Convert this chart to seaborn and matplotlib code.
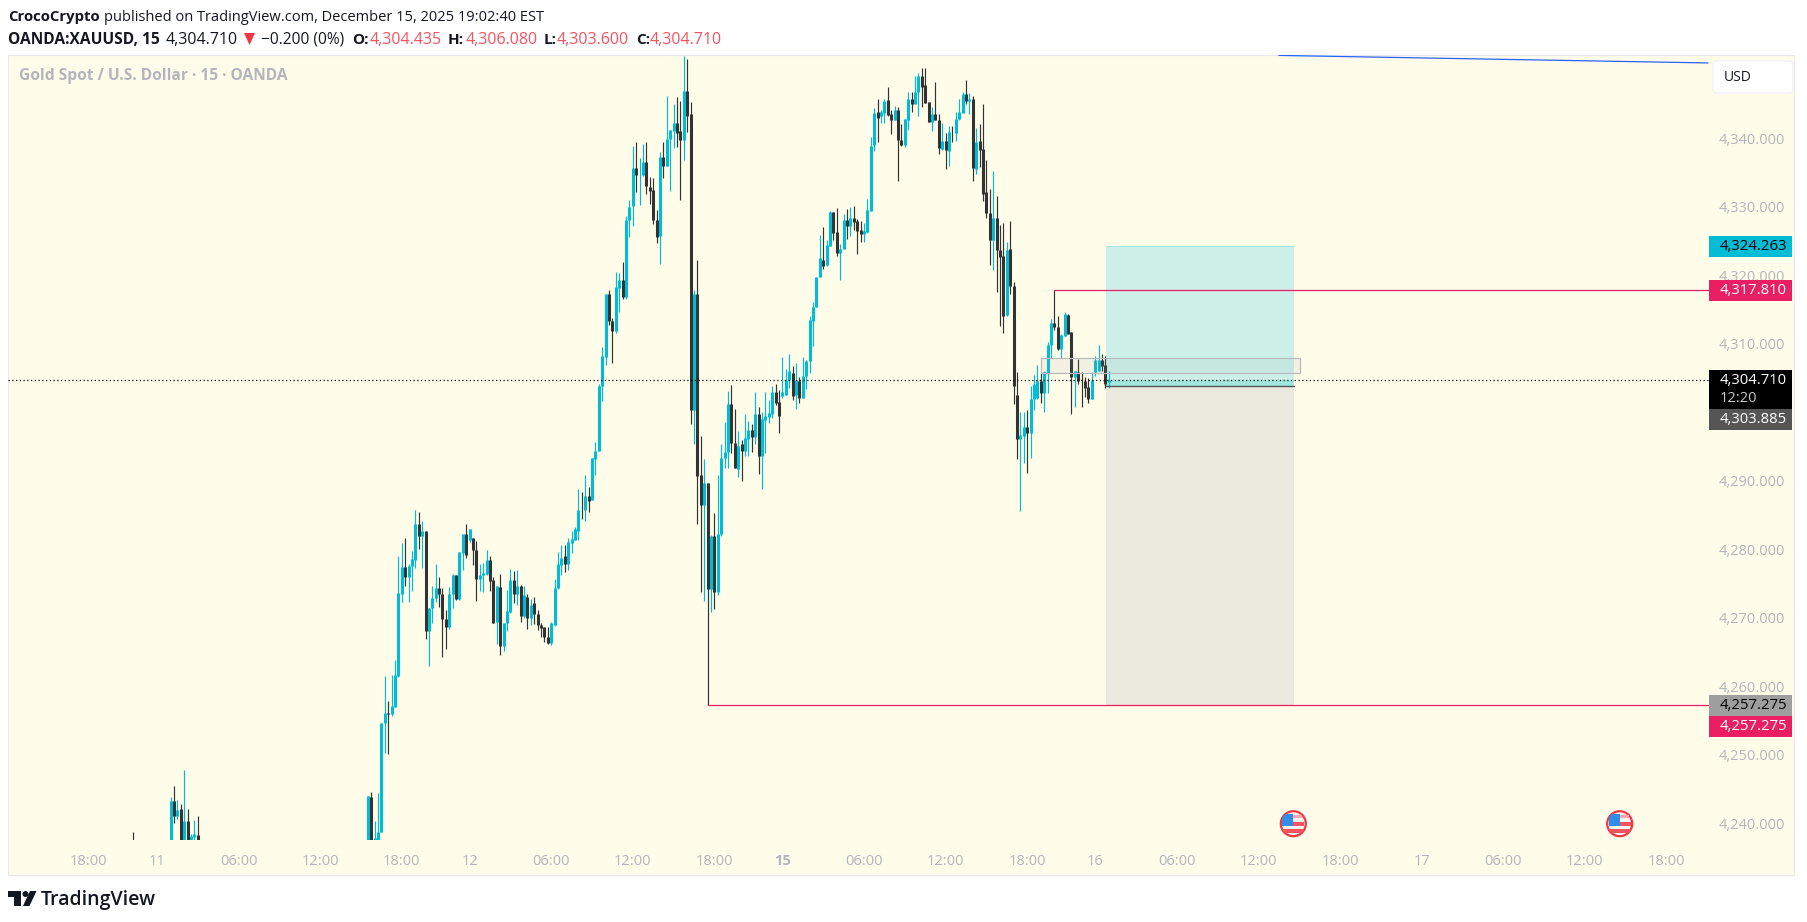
#!/usr/bin/python
import matplotlib
matplotlib.use("Agg")
import matplotlib.pyplot as plt
import numpy as np
import pandas as pd
import seaborn as sns
from matplotlib.patches import Circle, FancyBboxPatch, Polygon, Rectangle
from matplotlib.transforms import IdentityTransform

WIDTH, HEIGHT = 1807, 922

# bars visible on the chart: (first bar number, how many)
bar_runs = [(0, 1), (11, 9), (69, 219)]

opens = [
    4236,
    4235, 4243.3, 4241.0, 4242.1, 4235, 4240.3, 4235, 4238.0, 4238.3,
    4235, 4243.8, 4235, 4235, 4238.8, 4254.6, 4256.1, 4256, 4257, 4261.5,
    4273.5, 4277.4, 4276, 4277.5, 4278.5, 4283.7, 4281.9, 4282.7, 4268.1, 4271.4,
    4272.9, 4274.4, 4273.5, 4269.8, 4268.6, 4273.4, 4276.2, 4272.7, 4279.5, 4282.2,
    4281.4, 4281.6, 4279.9, 4275.6, 4276.2, 4276.4, 4278.4, 4275.5, 4269.4, 4274.5,
    4265.9, 4269.2, 4270.8, 4275.5, 4273.5, 4274.7, 4270.3, 4273.1, 4269.9, 4272.1,
    4270.6, 4268.9, 4268.6, 4267.2, 4266.3, 4269, 4274.3, 4277.7, 4279, 4277.9,
    4280.9, 4281.4, 4282.7, 4285.8, 4285.7, 4287.8, 4287.2, 4293.2, 4294.4, 4303.8,
    4308.1, 4317.2, 4313.4, 4311.9, 4318.2, 4319.3, 4316.8, 4328.1, 4330.1, 4335.6,
    4334.6, 4334.6, 4336.5, 4332.9, 4332.4, 4328.1, 4325.7, 4337.2, 4336, 4339.9,
    4341.1, 4342.3, 4341, 4339.8, 4346.9, 4343.6, 4300.4, 4317.2, 4290.8, 4286.4,
    4289.7, 4274.2, 4281.9, 4273.7, 4282.2, 4293.4, 4294.2, 4301.2, 4295.5, 4291.7,
    4295.4, 4294.4, 4296.1, 4297.4, 4296.4, 4299.8, 4293.6, 4298.9, 4299.3, 4299.8,
    4303, 4301.5, 4302.4, 4302.5, 4304.7, 4305.8, 4302.5, 4304.6, 4302.1, 4305.3,
    4307.5, 4313.3, 4315.3, 4319.8, 4322.3, 4321.5, 4324.3, 4329.2, 4326.3, 4323.3,
    4323.9, 4328.1, 4327.2, 4328.3, 4327.9, 4326.6, 4326.1, 4326.3, 4329.4, 4339,
    4343.8, 4343.2, 4343.7, 4345.6, 4343.6, 4342.6, 4344.1, 4339.8, 4339, 4342.7,
    4345.8, 4345, 4346.7, 4349.1, 4347.8, 4345.3, 4342.4, 4343.6, 4342.7, 4338.5,
    4339.6, 4338.2, 4340.9, 4340.8, 4342.8, 4343.75, 4346.5, 4345.5, 4345.7, 4335.5,
    4339.6, 4338.4, 4332.1, 4329.1, 4325.2, 4328.4, 4323.7, 4322.8, 4314.2, 4323.8,
    4318.4, 4302.5, 4296.1, 4296.6, 4297.9, 4297, 4302, 4302.1, 4304.6, 4302.8,
    4305.8, 4309.8, 4313, 4312.5, 4309.3, 4311.2, 4314.2, 4311.7, 4305.2, 4305.9,
    4304.6, 4304.6, 4303.7, 4301.9, 4305.9, 4306.1, 4307.7, 4306.9, 4304.435,
]
highs = [
    4238.8,
    4243.9, 4245.4, 4243.4, 4242.8, 4247.8, 4242.1, 4238.5, 4240.5, 4241.0,
    4244, 4244.5, 4240.3, 4244.4, 4254.6, 4261.5, 4257.8, 4261.7, 4263.8, 4279,
    4280.9, 4281.7, 4277.9, 4279.8, 4285.8, 4285.5, 4284.2, 4282.7, 4271.4, 4274.6,
    4277.8, 4276, 4274.3, 4271.1, 4274.5, 4276.4, 4276.3, 4279.6, 4282.3, 4283.7,
    4283, 4281.6, 4281.2, 4277.9, 4278, 4279.9, 4279, 4276, 4274.6, 4276.4,
    4269.2, 4274.1, 4277.1, 4276.8, 4277, 4274.8, 4274.7, 4273.5, 4272.8, 4273.1,
    4271.1, 4269.2, 4268.6, 4268.6, 4269.4, 4275.7, 4279.6, 4280.6, 4280.6, 4281.6,
    4282.7, 4283.3, 4288.8, 4288.3, 4290.8, 4289.1, 4293.4, 4295.6, 4304.2, 4309.5,
    4317.3, 4317.9, 4313.8, 4320.5, 4320.3, 4322, 4328.7, 4331, 4338.9, 4339.4,
    4337.1, 4339.1, 4339.4, 4334.4, 4334.2, 4329.6, 4338, 4339.4, 4346.2, 4341.2,
    4345, 4346, 4345.5, 4352, 4351.6, 4345.3, 4317.9, 4322.2, 4296.6, 4293.2,
    4289.7, 4282.1, 4285.3, 4290.9, 4295.4, 4298.6, 4303.1, 4304, 4300.5, 4297.3,
    4296, 4299.8, 4298.8, 4298.3, 4302.9, 4300.8, 4300.1, 4302.9, 4301.8, 4303.8,
    4304.2, 4303.3, 4308.1, 4306.3, 4308.5, 4306.8, 4307.2, 4305.1, 4308.1, 4307.7,
    4314.1, 4316.1, 4319.8, 4325.9, 4327, 4325.2, 4329.4, 4329.3, 4329.8, 4324.6,
    4329, 4329.7, 4329.9, 4330.1, 4328.2, 4327.9, 4327.7, 4331.2, 4340.2, 4344.4,
    4345.7, 4344.2, 4345.8, 4347.5, 4344.2, 4344.7, 4344.6, 4342.1, 4342.8, 4346.8,
    4346.8, 4349.1, 4349.6, 4350.2, 4350.2, 4345.3, 4344.6, 4348.2, 4343.6, 4342.3,
    4340.8, 4341.8, 4341.8, 4343.9, 4345.8, 4346.8, 4348.5, 4346.6, 4346.2, 4341.5,
    4342.1, 4345, 4336.8, 4332.6, 4335.2, 4331.6, 4327.4, 4327.7, 4324.9, 4327.9,
    4319, 4305.9, 4300.1, 4300, 4300.3, 4303.8, 4305.4, 4306.9, 4305.8, 4306,
    4310.2, 4313.6, 4317.81, 4314.1, 4311.5, 4314.7, 4314.4, 4311.7, 4306, 4307.8,
    4305.9, 4305.1, 4305, 4305.9, 4308.2, 4309.8, 4308.5, 4308.2, 4306.08,
]
lows = [
    4235,
    4235, 4240.1, 4240.6, 4235, 4235, 4235, 4235, 4235, 4235,
    4235, 4235, 4235, 4235, 4238.8, 4250.2, 4250.1, 4255.6, 4257, 4261.4,
    4272.3, 4274.6, 4272.3, 4273.9, 4277.3, 4280, 4277.3, 4266.9, 4262.9, 4269.2,
    4272.3, 4271.6, 4264.3, 4265.5, 4268.3, 4271.5, 4272.6, 4272.6, 4277, 4278.8,
    4281, 4277.7, 4272.5, 4273.9, 4273.7, 4276.3, 4273.9, 4269.2, 4266.2, 4264.6,
    4265.2, 4268, 4270.7, 4272.2, 4271.8, 4269.4, 4269.9, 4268.3, 4268.9, 4269.1,
    4268.2, 4267.2, 4266.4, 4266.2, 4266, 4268.8, 4274.2, 4276.2, 4276.7, 4277,
    4279.4, 4281.3, 4281.4, 4284.4, 4284.2, 4285.5, 4287.2, 4290.9, 4294.4, 4301.7,
    4306.9, 4312.7, 4307.2, 4311.6, 4314.6, 4316.6, 4316.5, 4325.6, 4327.25, 4332.2,
    4330.2, 4334.5, 4331.9, 4330.4, 4327.5, 4324.7, 4321.6, 4334.2, 4336, 4332.3,
    4338.6, 4338.7, 4331, 4336.8, 4340.9, 4298.3, 4295.4, 4283.7, 4273.7, 4272.4,
    4257.275, 4270.9, 4271.3, 4273.3, 4281.9, 4291.8, 4291.9, 4294.1, 4291.8, 4290.6,
    4290, 4293.6, 4293.6, 4294.2, 4295.4, 4291, 4288.8, 4294, 4298.5, 4299.2,
    4301.1, 4297, 4302.1, 4302.5, 4303.5, 4301.8, 4300.5, 4301.4, 4302.1, 4303.4,
    4305.8, 4309.7, 4315.3, 4319.7, 4320.9, 4321.3, 4324.3, 4325.2, 4322.8, 4319.3,
    4323.8, 4325.3, 4325.7, 4326.6, 4323.1, 4324.8, 4324.8, 4326.2, 4329.4, 4338.1,
    4339.5, 4342.3, 4342.3, 4343.2, 4340.6, 4342.6, 4333.7, 4338.9, 4338.8, 4341.2,
    4343.9, 4345, 4343.3, 4344.6, 4345.2, 4342.4, 4341, 4342.6, 4337.7, 4338.3,
    4335.5, 4335.9, 4339.4, 4339.6, 4342.7, 4343.75, 4345, 4343.6, 4333.7, 4334.8,
    4335.8, 4330.8, 4328.4, 4321.5, 4320.8, 4317.6, 4312.6, 4311.6, 4314.1, 4317.2,
    4301.2, 4293.2, 4285.6, 4292.6, 4291.1, 4293.3, 4300.4, 4302, 4301.3, 4300.1,
    4302.8, 4307.9, 4312, 4309.1, 4307.9, 4311.2, 4311.5, 4299.8, 4300.7, 4304.2,
    4300.8, 4302.2, 4301.3, 4301.9, 4305.3, 4306.1, 4306, 4303.6, 4303.6,
]
closes = [
    4235,
    4243.2, 4241.0, 4242.0, 4235, 4240.3, 4235, 4238.1, 4238.4, 4235,
    4244, 4235, 4237.8, 4238.8, 4254.6, 4256.1, 4256, 4257.1, 4261.7, 4273.6,
    4277.4, 4276, 4277.6, 4278.6, 4283.7, 4281.9, 4282.7, 4268.1, 4271.4, 4272.9,
    4274.4, 4273.5, 4269.8, 4268.6, 4273.5, 4276.2, 4272.8, 4279.6, 4282.2, 4279.2,
    4283, 4279.9, 4275.7, 4276.2, 4276.5, 4278.4, 4275.4, 4269.3, 4274.6, 4265.9,
    4269.2, 4271, 4275.5, 4273.5, 4274.6, 4270.3, 4273.3, 4269.9, 4271.9, 4270.6,
    4269, 4268.5, 4267.2, 4266.3, 4269.2, 4274.4, 4277.8, 4278.8, 4277.9, 4281,
    4281.5, 4283, 4285.8, 4285.7, 4287.8, 4287.1, 4293.4, 4294.4, 4303.8, 4308.2,
    4317.2, 4313.4, 4311.8, 4318.3, 4319.3, 4316.8, 4328.1, 4330, 4335.6, 4334.6,
    4334.7, 4336.5, 4333, 4332.3, 4328.1, 4325.6, 4337.2, 4336, 4339.9, 4341.2,
    4342.3, 4340.7, 4339.8, 4346.9, 4343.3, 4300.4, 4317.2, 4290.7, 4286.4, 4289.7,
    4274.2, 4281.9, 4273.7, 4282.3, 4293.4, 4294.2, 4301.2, 4295.5, 4291.8, 4295.1,
    4294.4, 4296.2, 4297.4, 4296.4, 4299.8, 4293.6, 4299, 4299.4, 4299.9, 4303,
    4301.4, 4299.4, 4303, 4304.7, 4306, 4302.4, 4304.7, 4302.1, 4305.3, 4307.5,
    4313.5, 4315.3, 4319.8, 4322.5, 4321.4, 4324.4, 4329.2, 4326.2, 4323.3, 4323.9,
    4328.1, 4327.2, 4328.3, 4327.8, 4326.5, 4326, 4326.4, 4329.6, 4338.9, 4343.7,
    4343, 4343.8, 4345.5, 4343.4, 4342.6, 4344.1, 4339.7, 4339, 4342.8, 4345.8,
    4345, 4346.8, 4349.1, 4347.5, 4345.2, 4342.4, 4343.6, 4342.6, 4338.6, 4339.6,
    4338.3, 4340.9, 4340.85, 4342.8, 4343.85, 4346.5, 4345.5, 4345.7, 4335.7, 4339.4,
    4338.3, 4331.9, 4329.1, 4325.2, 4328.4, 4323.7, 4322.7, 4314.1, 4323.7, 4318.4,
    4303.8, 4296.1, 4296.7, 4297.9, 4297, 4302, 4304.2, 4304.5, 4302.8, 4305.9,
    4309.8, 4313, 4312.5, 4309.2, 4311.3, 4314.4, 4311.5, 4305.2, 4306, 4304.5,
    4304.5, 4303.6, 4302, 4304.7, 4307.6, 4307.6, 4306.7, 4304.2, 4304.71,
]

# 4,300 sits behind the price tags on the scale, so it is not listed
price_ticks = [4240, 4250, 4260, 4270, 4280, 4290, 4310, 4320, 4330, 4340]
time_ticks = [-13, 7, 31, 55, 79, 99, 123, 147, 171, 191, 215, 239, 263, 283,
              307, 331, 355, 379, 403, 427, 451]
time_labels = ["18:00", "11", "06:00", "12:00", "18:00", "12", "06:00", "12:00",
               "18:00", "15", "06:00", "12:00", "18:00", "16", "06:00", "12:00",
               "18:00", "17", "06:00", "12:00", "18:00"]

last_price = 4304.71
entry_price = 4303.885
target_price = 4324.263
stop_price = 4257.275
swing_high = 4317.81

UP = "#00bcd4"
DOWN = "#333333"
PINK = "#e91e63"
GREY_TEXT = "#b2b5be"
RED = "#f7525f"
INK = "#131722"
CREAM = "#fffcea"


def fx(x):
    return x / WIDTH


def fy(y):
    return 1 - y / HEIGHT


def put(x, y, s, color=INK, size=10, weight="normal", ha="left"):
    fig.text(fx(x), fy(y), s, color=color, fontsize=size, fontweight=weight,
             ha=ha, va="center")


def tag(y0, y1, color):
    fig.add_artist(Rectangle((fx(1709), fy(y1)), fx(83), (y1 - y0) / HEIGHT,
                             transform=fig.transFigure, fc=color, ec="none", zorder=3))


def flag(cx, cy):
    # economic event marker, drawn in pixels
    tf = IdentityTransform()
    ring = Circle((cx, HEIGHT - cy), 12.5, transform=tf, fc="#f4f4f4", ec="#f23645",
                  lw=1.6, zorder=4)
    fig.add_artist(ring)
    for x, y, w, h, c in [(0, -9, 9, 3, "#f9a6ad"), (0, -2, 11, 4, "#f7525f"),
                          (-11, 5, 22, 4, "#f7525f"), (-11, -10, 11, 12, "#2f8fe8")]:
        r = Rectangle((cx + x, HEIGHT - cy - y - h), w, h, transform=tf, fc=c,
                      ec="none", zorder=5)
        fig.add_artist(r)
        r.set_clip_path(ring)


sns.set_theme(style="white")
plt.rcParams["font.family"] = ["Open Sans", "DejaVu Sans"]

bars = np.concatenate([np.arange(a, a + n) for a, n in bar_runs])
df = pd.DataFrame({"bar": bars, "open": opens, "high": highs, "low": lows, "close": closes})
df["side"] = np.where(df["close"] >= df["open"], "up", "down")
palette = {"up": UP, "down": DOWN}

wicks = df.melt(id_vars=["bar", "side"], value_vars=["high", "low"], value_name="price")
bodies = df.melt(id_vars=["bar", "side"], value_vars=["open", "close"], value_name="price")

fig = plt.figure(figsize=(WIDTH / 100, HEIGHT / 100), dpi=100, facecolor="white")
fig.add_artist(Rectangle((fx(8), fy(875)), fx(1786), 820 / HEIGHT, transform=fig.transFigure,
                         fc=CREAM, ec="#e8e9ee", lw=0.8, zorder=-1))

ax = fig.add_axes([fx(8), fy(840), fx(1704), 785 / HEIGHT])
ax.patch.set_alpha(0)

# long position tool
ax.fill_between([286.1, 341.4], entry_price, target_price, color="#ccf0e8", lw=0, zorder=1)
ax.fill_between([286.1, 341.4], entry_price, last_price, color="#a2e6e0", lw=0, zorder=1)
ax.fill_between([286.1, 341.4], stop_price, entry_price, color="#ebe9de", lw=0, zorder=1)

sns.lineplot(data=wicks, x="bar", y="price", hue="side", units="bar", estimator=None,
             palette=palette, linewidth=0.85, legend=False, sort=False,
             solid_capstyle="butt", ax=ax, zorder=2)
sns.lineplot(data=bodies, x="bar", y="price", hue="side", units="bar", estimator=None,
             palette=palette, linewidth=2.2, legend=False, sort=False,
             solid_capstyle="butt", ax=ax, zorder=2)

ax.plot([286.1, 341.4], [entry_price, entry_price], color="#555555", lw=1.0, zorder=3)
ax.plot([286.1, 341.4], [target_price, target_price], color="#a2e6e0", lw=0.7, zorder=3)

# drawings on top of the candles
ax.add_patch(Rectangle((266.9, 4305.7), 343.2 - 266.9, 2.2, fc="#9598a1", ec="none",
                       alpha=0.1, zorder=3))
ax.add_patch(Rectangle((266.9, 4305.7), 343.2 - 266.9, 2.2, fc="none", ec="#b8b9be",
                       lw=0.9, zorder=3))
ax.plot([271, 463.2], [swing_high, swing_high], color=PINK, lw=0.9, zorder=3)
ax.plot([169, 463.2], [stop_price, stop_price], color=PINK, lw=0.9, zorder=3)
ax.plot([337, 463.2], [4352.1, 4351.0], color="#2962ff", lw=0.9, zorder=3)
ax.plot([-36.8, 463.2], [last_price, last_price], color="black", lw=0.9,
        linestyle=(0, (1, 2)), zorder=4)

ax.set_xlim(-36.8, 464.4)
ax.set_ylim(4237.56, 4352.16)
ax.set_xlabel("")
ax.set_ylabel("")
sns.despine(ax=ax, left=True, bottom=True)
ax.yaxis.tick_right()
ax.set_yticks(price_ticks)
ax.set_yticklabels([f"{p:,.3f}" for p in price_ticks], color=GREY_TEXT, fontsize=10.5)
ax.set_xticks(time_ticks)
ax.set_xticklabels(time_labels, color=GREY_TEXT, fontsize=10.5)
ax.get_xticklabels()[9].set_fontweight("bold")
ax.tick_params(axis="y", length=0, pad=5)
ax.tick_params(axis="x", length=0, pad=10)

# price tags on the scale
tag(236, 257, UP)
tag(280, 301, PINK)
tag(370, 409, "black")
tag(409, 430, "#555555")
tag(695, 716, "#9e9e9e")
tag(716, 737, PINK)
tags = [(246.5, "4,324.263", "black"), (290.5, "4,317.810", "white"),
        (380, "4,304.710", "white"), (419.5, "4,303.885", "white"),
        (705.5, "4,257.275", "black"), (726.5, "4,257.275", "white")]
for y, s, c in tags:
    fig.text(fx(1787), fy(y), s, color=c, fontsize=10.7, fontweight="medium",
             ha="right", va="center", zorder=6)
fig.text(fx(1720), fy(398), "12:20", color="#c8c8c8", fontsize=10.5, va="center", zorder=6)

usd = FancyBboxPatch((1715, HEIGHT - 91), 76, 28, boxstyle="round,pad=2,rounding_size=4",
                     transform=IdentityTransform(), fc="white", ec="#f0f3fa", lw=1, zorder=3)
fig.add_artist(usd)
fig.text(fx(1724), fy(77.5), "USD", color=INK, fontsize=10, va="center", zorder=6)

flag(1293.3, 823.7)
flag(1619.7, 823.7)

# header lines
put(8, 17.5, "CrocoCrypto", weight="bold", size=10.7)
put(104, 17.5, "published on TradingView.com, December 15, 2025 19:02:40 EST", size=10.5)
put(8, 40, "OANDA:XAUUSD, 15", weight="bold", size=11.2)
put(166, 40, "4,304.710", size=11.5)
fig.add_artist(Polygon([(fx(244), fy(33)), (fx(255), fy(33)), (fx(249.5), fy(45))],
                       transform=fig.transFigure, fc="#f23645", ec="none"))
put(261, 40, "\u22120.200 (0%)", size=11.2)
for x, s in [(352.6, "O:"), (448, "H:"), (544, "L:"), (636, "C:")]:
    put(x, 40, s, weight="bold", size=11)
for x, s in [(370, "4,304.435"), (466, "4,306.080"), (557, "4,303.600"), (650, "4,304.710")]:
    put(x, 40, s, color=RED, size=11.5)
put(19, 76.5, "Gold Spot / U.S. Dollar \u00b7 15 \u00b7 OANDA", color=GREY_TEXT, weight="bold", size=11.2)

# footer logo
for pts in [[(8, 891), (21, 891), (21, 906), (14, 906), (14, 897), (8, 897)],
            [(30, 891), (36.5, 891), (29.5, 906), (23, 906)]]:
    fig.add_artist(Polygon([(fx(x), fy(y)) for x, y in pts], transform=fig.transFigure,
                           fc=INK, ec="none"))
fig.add_artist(Circle((25.5, HEIGHT - 894), 3, transform=IdentityTransform(), fc=INK, ec="none"))
put(41, 899.5, "TradingView", weight="semibold", size=14)

fig.savefig("out.png", dpi=100, facecolor="white")
